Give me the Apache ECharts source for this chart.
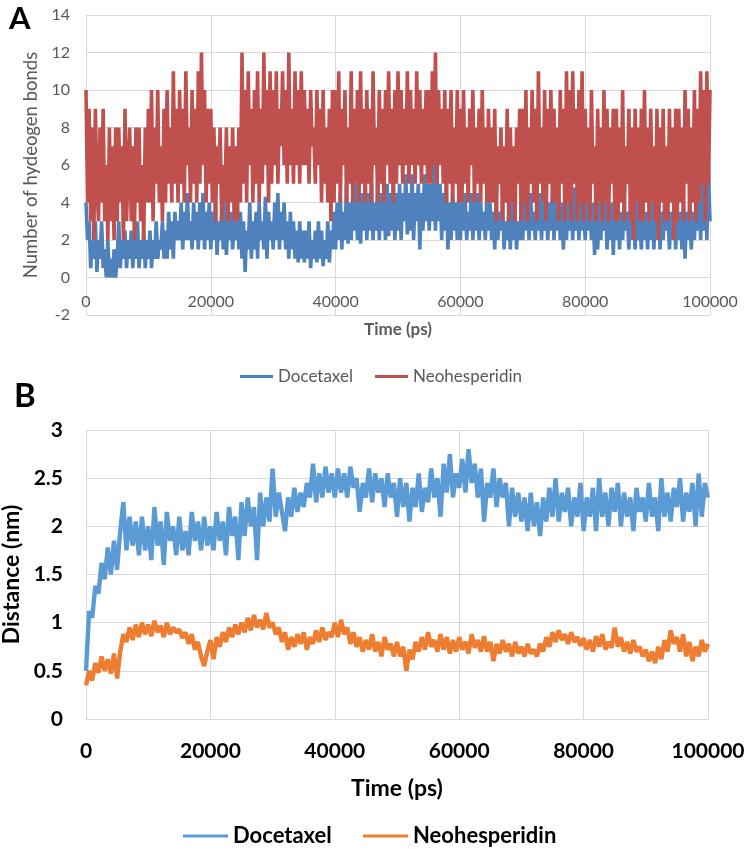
<!DOCTYPE html>
<html><head><meta charset="utf-8">
<script src="https://cdn.jsdelivr.net/npm/echarts@6/dist/echarts.min.js"></script>
<style>html,body{margin:0;padding:0;background:#fff}#c{width:747px;height:849px}</style>
</head><body><div id="c"></div>
<script>
// ---------- Panel A: number of hydrogen bonds, sampled every 250 ps ----------
const stepA = 250;
const hbDocetaxel = [
 4,2,3,0.5,2,1,3,0.3,2,1,3,0.5,1.5,0,2,0,1,0,1.5,0,
 1,3,0.5,2,1,2.5,0.5,2,1,2.5,0.5,2,1,3,0.5,2,1,2.5,0.5,2,
 1,2.5,0.5,2,1,3,1,2,1.5,3,1,2.5,1,3.5,1.5,3,1,3.5,2,3,
 2,4,1.5,3.5,2,4.5,2,3,1.5,4,2,3.5,1.5,4,2,4.5,1.5,3.5,2,4,
 1.5,3.5,2,4,1.2,3,2,3.5,1.5,4,1.2,3,2,3.5,1.5,3,2,4,1.5,3.5,
 1,3,0.3,2.5,1.5,4,1,3,1.5,3.5,1,4,2,3,1.5,4.3,1,3.5,2,3,
 1.5,4,2,4.5,1.5,3.5,2,4,1.5,3,1,3.5,1.5,3,1,2.5,0.8,3,1,2.5,
 0.8,2.5,1,3,0.5,2,1,2.5,0.8,3,1,2.5,0.6,2,1,3,0.8,2.5,1.5,3.5,
 1.5,4,2,4.5,1.5,3.5,2,5,1.8,4,2,4.5,2.5,5,2,4,1.8,4.5,2.5,5,
 2,4.5,2.5,5,2,4,2.5,5.2,2,4.5,2.5,4,2,5,2.2,4.5,2.5,5,2,4.5,
 2.5,5,2,4.5,3,5.5,2.3,4.5,2.5,5.5,2,4.5,3,5,1.5,4.5,2.5,5.5,3,5,
 2.5,5,3,6,2.5,5.5,3,5,2,4.5,2.5,5,1.5,4,2,4.5,2.5,4,2,4.5,
 2,4,2.5,4.5,2,3.5,2.5,4.5,2,4,2.5,4.5,2,4,2.5,3.5,2,4.5,2.5,4,
 2,3.5,1.5,4,2,3.5,2.5,4,1.5,3,2,3.5,1.5,4,2,3.5,1.5,3,2,4,
 2,4.5,2.5,4,2,4.5,2.5,3.5,2,4,2.5,4.5,2,4,2.5,3.5,2,4,2.5,4.5,
 2,4,2.5,4.5,2,4,1.5,3.5,2,4.5,2.5,4,2,4.8,2.5,4,2,4.5,2.5,4,
 2,4.5,2.5,4,2,4,1.2,3.5,1.5,4,2,4.5,2.5,4,1.5,3.5,2,4,1.2,3.5,
 2,4,1.5,3.5,2,4,2.5,3.5,1.5,4,2,3.5,1.5,4,2,3,1.5,4,2,3.5,
 1.5,3.5,2,4,1.5,3.5,2,4,1.5,3.5,2,4,2.5,3.5,1.5,3.5,2,4,1.5,3.5,
 2,3.5,1.5,4,1,3.5,2,4,1.5,3.5,2,4,2.5,4.5,2,5,2.5,5.5,2,5.7,
 3
];
const hbNeohesperidin = [
 10,4,9,3,8,2,9,5,3,8,4,9,3,6,2,8,3,7,2,8,
 3,8,4,7,2,9,3,6,8,3,7,2,8,4,8,3,6,2,8,4,
 9,4,10,3,8,5,10,4,7,3,9,4,10,5,8,4,11,5,9,4,
 10,5,9,4,11,6,8,4,10,5,9,4,11,5,12,6,10,4,9,5,
 9,4,8,3,7,5,8,3,6,4,8,3,7,4,8,3,7,3,8,4,
 12,5,10,4,11,6,9,4,10,5,11,4,9,5,12,6,10,4,11,5,
 10,6,11,5,9,7,11,6,10,5,12,6,9,5,11,6,10,5,11,6,
 10,6,9,5,10,7,8,5,10,6,9,4,10,5,8,4,9,3,10,4,
 10,5,11,4,9,6,10,4,8,5,11,4,9,5,10,4,11,5,9,4,
 10,5,9,4,11,6,8,4,10,5,9,4,10,6,11,5,9,4,10,5,
 11,6,10,5,9,6,11,5,10,6,9,5,11,6,10,5,9,6,10,5,
 10,5,11,6,12,5,10,6,9,5,10,4,9,5,10,4,8,5,10,4,
 9,4,10,5,8,4,9,6,10,4,8,5,9,4,10,5,8,4,9,4,
 8,4,9,3,7,5,8,3,7,4,9,3,8,4,7,3,8,5,9,3,
 9,4,10,3,8,5,10,4,9,3,11,5,8,4,10,3,9,5,10,4,
 9,4,8,3,10,5,9,3,11,4,10,3,11,5,9,3,10,4,11,3,
 9,4,8,3,10,5,7,3,9,4,8,3,10,4,9,3,8,5,9,3,
 9,3,8,4,10,3,7,5,9,3,8,2,9,4,8,3,9,3,10,4,
 8,3,9,4,7,3,9,2,8,4,9,3,7,3,9,4,8,2,9,3,
 9,4,8,3,10,5,9,3,8,4,10,3,9,4,11,5,10,3,11,5,
 10
];
// ---------- Panel B: distance (nm), sampled every 500 ps ----------
const stepB = 500;
const distDocetaxel = [
 0.5,1.12,1.05,1.38,1.3,1.62,1.45,1.78,1.5,1.85,
 1.55,1.95,2.25,1.75,2.1,1.8,2.05,1.7,2.1,1.75,
 2.0,1.65,2.2,1.8,2.05,1.6,2.15,1.85,2.0,1.7,
 2.1,1.75,1.95,1.7,2.15,1.85,2.05,1.75,2.1,1.8,
 2.0,1.75,2.15,1.85,2.05,1.7,2.2,1.9,2.1,1.65,
 2.25,1.9,2.3,2.0,2.2,1.65,2.35,2.0,2.3,2.05,
 2.6,2.1,2.35,2.15,1.95,2.3,2.1,2.4,2.15,2.35,
 2.2,2.45,2.3,2.65,2.25,2.55,2.3,2.62,2.35,2.55,
 2.3,2.6,2.35,2.55,2.3,2.62,2.4,2.5,2.15,2.45,
 2.3,2.6,2.25,2.55,2.35,2.5,2.2,2.55,2.3,2.45,
 2.1,2.5,2.2,2.45,2.05,2.4,2.2,2.55,2.15,2.4,
 2.25,2.6,2.3,2.5,2.1,2.65,2.35,2.75,2.3,2.55,
 2.4,2.7,2.35,2.8,2.45,2.65,2.3,2.6,2.05,2.45,
 2.3,2.6,2.2,2.5,2.3,2.45,2.0,2.4,2.1,2.35,
 2.05,2.3,1.95,2.35,2.0,2.25,1.9,2.3,2.05,2.4,
 2.1,2.5,2.05,2.35,2.15,2.4,2.0,2.3,2.1,2.45,
 1.95,2.3,2.1,2.4,1.95,2.5,2.1,2.35,2.0,2.4,
 2.15,2.45,2.0,2.35,2.1,2.3,1.95,2.4,2.15,2.3,
 2.05,2.45,2.1,2.3,1.95,2.5,2.1,2.35,2.05,2.4,
 2.2,2.5,2.05,2.35,2.15,2.45,2.0,2.55,2.1,2.45,
 2.3
];
const distNeohesperidin = [
 0.35,0.5,0.4,0.58,0.48,0.65,0.5,0.62,0.47,0.68,
 0.42,0.7,0.88,0.8,0.95,0.82,0.98,0.85,1.0,0.88,
 0.98,0.86,1.02,0.9,0.97,0.85,1.0,0.88,0.95,0.9,
 0.93,0.84,0.9,0.78,0.88,0.72,0.8,0.65,0.55,0.7,
 0.82,0.62,0.85,0.75,0.9,0.8,0.95,0.85,0.98,0.88,
 1.0,0.9,1.05,0.92,1.08,0.95,1.03,0.93,1.1,0.95,
 1.0,0.88,0.95,0.8,0.9,0.72,0.85,0.75,0.88,0.78,
 0.9,0.72,0.85,0.78,0.92,0.8,0.95,0.82,0.9,0.85,
 1.0,0.85,1.03,0.88,0.95,0.78,0.9,0.75,0.85,0.7,
 0.82,0.72,0.88,0.7,0.8,0.65,0.85,0.72,0.78,0.65,
 0.8,0.65,0.75,0.5,0.72,0.62,0.8,0.7,0.85,0.72,
 0.9,0.75,0.82,0.7,0.88,0.72,0.85,0.68,0.82,0.7,
 0.85,0.72,0.8,0.68,0.88,0.74,0.82,0.7,0.86,0.7,
 0.8,0.6,0.78,0.68,0.82,0.7,0.78,0.65,0.8,0.68,
 0.75,0.65,0.78,0.68,0.72,0.65,0.78,0.7,0.85,0.75,
 0.9,0.8,0.92,0.82,0.88,0.78,0.9,0.8,0.85,0.76,
 0.84,0.72,0.82,0.7,0.86,0.75,0.88,0.72,0.8,0.74,
 0.95,0.75,0.85,0.7,0.8,0.68,0.82,0.7,0.75,0.65,
 0.72,0.6,0.7,0.58,0.75,0.62,0.82,0.7,0.92,0.78,
 0.85,0.7,0.88,0.65,0.8,0.6,0.75,0.65,0.82,0.7,
 0.78
];
const seriesNames = ['Docetaxel', 'Neohesperidin'];
const panelLabels = ['A', 'B'];
const xTitle = 'Time (ps)';
const yTitleA = 'Number of hydeogen bonds';
const yTitleB = 'Distance (nm)';

const toXY = (arr, step) => arr.map((v, i) => [i * step, v]);
const plain = v => String(v);
const FONT = 'Lato';
const grayTxt = '#595959';
const gridCol = '#d9d9d9';
const colA = ['#4f81bd', '#c0504d'];
const colB = ['#5b9bd5', '#ed7d31'];

const legA = {fontFamily: FONT, fontSize: 17, color: grayTxt};
const legB = {fontFamily: FONT, fontSize: 22, color: '#000', fontWeight: 'bold'};
function oneLegend(name, color, left, top, w, ts) {
  return {left: left, top: top, itemWidth: w, itemHeight: 3, icon: 'rect', padding: 0,
          textStyle: ts, data: [{name: name, itemStyle: {color: color}}]};
}

const chart = echarts.init(document.getElementById('c'), null, {renderer: 'canvas'});
chart.setOption({
  animation: false,
  textStyle: {fontFamily: FONT},
  graphic: [
    {type: 'text', left: 9, top: 3, style: {text: panelLabels[0], font: 'bold 31px ' + FONT, fill: '#000'}},
    {type: 'text', left: 14, top: 380, style: {text: panelLabels[1], font: 'bold 33px ' + FONT, fill: '#000'}}
  ],
  grid: [
    {left: 86, top: 15, width: 624, height: 300, containLabel: false, outerBoundsMode: 'none'},
    {left: 86, top: 430, width: 622, height: 289, containLabel: false, outerBoundsMode: 'none'}
  ],
  legend: [
    oneLegend(seriesNames[0], colA[0], 240, 368, 33, legA),
    oneLegend(seriesNames[1], colA[1], 375, 368, 33, legA),
    oneLegend(seriesNames[0], colB[0], 183, 825, 45, legB),
    oneLegend(seriesNames[1], colB[1], 363, 825, 45, legB)
  ],
  xAxis: [
    {type: 'value', gridIndex: 0, min: 0, max: 100000, interval: 20000,
     offset: -38,
     name: xTitle, nameLocation: 'middle', nameGap: 44,
     nameTextStyle: {fontFamily: FONT, fontSize: 17, fontWeight: 'bold', color: grayTxt},
     axisLine: {show: false, onZero: false},
     axisTick: {show: false},
     axisLabel: {fontFamily: FONT, fontSize: 16, color: grayTxt, margin: 17, formatter: plain},
     splitLine: {show: true, lineStyle: {color: gridCol, width: 1}}},
    {type: 'value', gridIndex: 1, min: 0, max: 100000, interval: 20000,
     name: xTitle, nameLocation: 'middle', nameGap: 58,
     nameTextStyle: {fontFamily: FONT, fontSize: 23, fontWeight: 'bold', color: '#000'},
     axisLine: {show: true, lineStyle: {color: gridCol}},
     axisTick: {show: false},
     axisLabel: {fontFamily: FONT, fontSize: 21, fontWeight: 'bold', color: '#000', margin: 22, formatter: plain},
     splitLine: {show: true, lineStyle: {color: gridCol, width: 1}}}
  ],
  yAxis: [
    {type: 'value', gridIndex: 0, min: -2, max: 14, interval: 2,
     name: yTitleA, nameLocation: 'middle', nameGap: 41,
     nameTextStyle: {fontFamily: FONT, fontSize: 18.5, color: grayTxt},
     axisLine: {show: false}, axisTick: {show: false},
     axisLabel: {fontFamily: FONT, fontSize: 16, color: grayTxt, margin: 16, formatter: plain},
     splitLine: {show: true, lineStyle: {color: gridCol, width: 1}}},
    {type: 'value', gridIndex: 1, min: 0, max: 3, interval: 0.5,
     name: yTitleB, nameLocation: 'middle', nameGap: 62,
     nameTextStyle: {fontFamily: FONT, fontSize: 23, fontWeight: 'bold', color: '#000'},
     axisLine: {show: false}, axisTick: {show: false},
     axisLabel: {fontFamily: FONT, fontSize: 21, fontWeight: 'bold', color: '#000', margin: 23, formatter: plain},
     splitLine: {show: true, lineStyle: {color: gridCol, width: 1}}}
  ],
  series: [
    {name: seriesNames[0], type: 'line', xAxisIndex: 0, yAxisIndex: 0, symbol: 'none',
     data: toXY(hbDocetaxel, stepA), lineStyle: {color: colA[0], width: 3.6}, itemStyle: {color: colA[0]}},
    {name: seriesNames[1], type: 'line', xAxisIndex: 0, yAxisIndex: 0, symbol: 'none',
     data: toXY(hbNeohesperidin, stepA), lineStyle: {color: colA[1], width: 3.6}, itemStyle: {color: colA[1]}},
    {name: seriesNames[0], type: 'line', xAxisIndex: 1, yAxisIndex: 1, symbol: 'none',
     data: toXY(distDocetaxel, stepB), lineStyle: {color: colB[0], width: 4.4}, itemStyle: {color: colB[0]}},
    {name: seriesNames[1], type: 'line', xAxisIndex: 1, yAxisIndex: 1, symbol: 'none',
     data: toXY(distNeohesperidin, stepB), lineStyle: {color: colB[1], width: 4.4}, itemStyle: {color: colB[1]}}
  ]
});
</script></body></html>
